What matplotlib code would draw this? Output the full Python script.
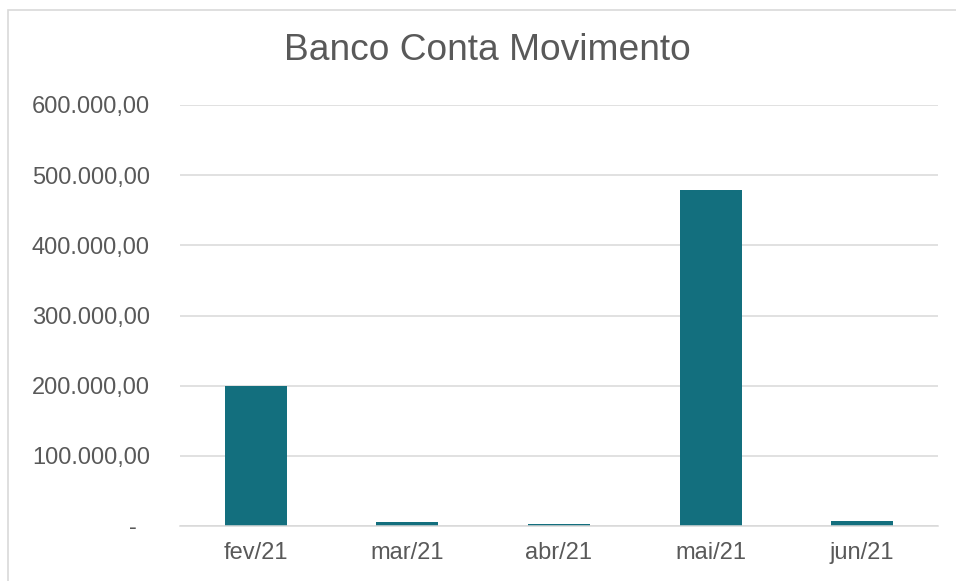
import matplotlib
matplotlib.use("Agg")
import matplotlib.pyplot as plt
from matplotlib.patches import Rectangle

categories = ["fev/21", "mar/21", "abr/21", "mai/21", "jun/21"]
values = [199500, 5000, 3500, 479000, 7000]
yticks = [0, 100000, 200000, 300000, 400000, 500000, 600000]
ytick_labels = ["-  ", "100.000,00", "200.000,00", "300.000,00", "400.000,00", "500.000,00", "600.000,00"]
title = "Banco Conta Movimento"

plt.rcParams['font.family'] = ['Liberation Sans', 'DejaVu Sans']
text_color = "#595959"
grid_color = "#D9D9D9"
bar_color = "#136F7E"

fig = plt.figure(figsize=(9.56, 5.81), dpi=100)
fig.patch.set_facecolor("white")
W, H = 956, 581
fig.patches.append(Rectangle((7.5 / W, -0.05), 1.2, (H - 9.5) / H + 0.05,
                             transform=fig.transFigure, fill=False,
                             edgecolor=grid_color, linewidth=1.2))

ax = fig.add_axes([180 / W, (H - 526) / H, (938 - 180) / W, (526 - 105) / H * 1.0])
x = range(len(categories))
ax.bar(x, values, width=0.41, color=bar_color, zorder=3)
ax.set_xlim(-0.5, len(categories) - 0.5)
ax.set_ylim(0, 600000)
ax.set_yticks(yticks)
ax.set_yticklabels(ytick_labels)
ax.set_xticks(list(x))
ax.set_xticklabels(categories)
ax.tick_params(axis='both', length=0, labelsize=17, colors=text_color)
ax.tick_params(axis='y', pad=21.6)
ax.tick_params(axis='x', pad=11.5)
ax.grid(axis='y', color=grid_color, linewidth=1.1, zorder=0)
for s in ["left", "right", "top"]:
    ax.spines[s].set_visible(False)
ax.spines["bottom"].set_color(grid_color)
ax.spines["bottom"].set_linewidth(1.1)
ax.spines["bottom"].set_zorder(4)

fig.text(487 / W, 1 - 50 / H, title, ha="center", va="center", fontsize=26.7, color=text_color)

fig.savefig("out.png", dpi=100)
